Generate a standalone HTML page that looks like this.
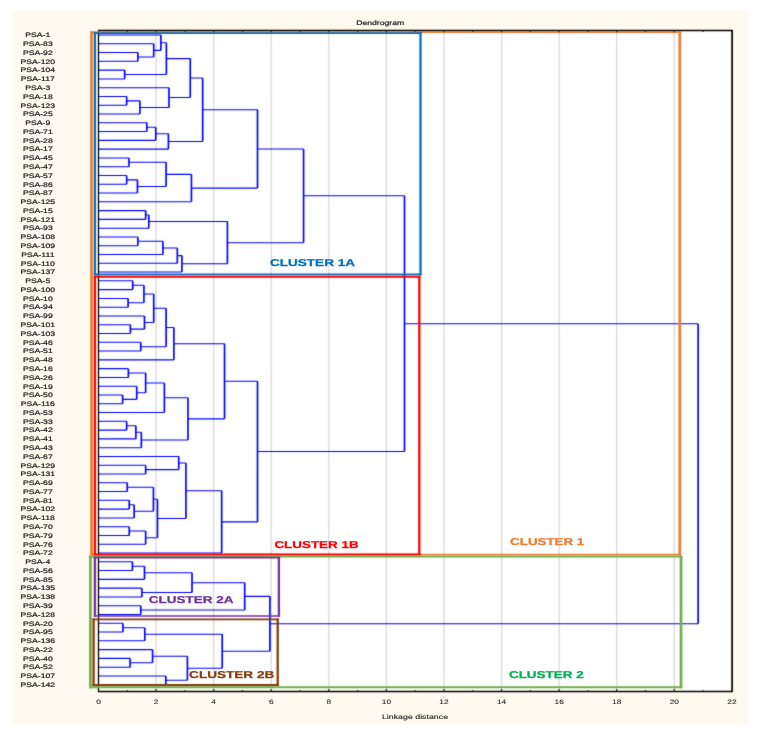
<!DOCTYPE html><html><head><meta charset="utf-8"><title>Dendrogram</title>
<style>html,body{margin:0;padding:0;background:#fff;width:759px;height:736px;overflow:hidden}svg{display:block}text{font-family:"Liberation Sans",sans-serif;text-rendering:geometricPrecision}.t{stroke:#222;stroke-width:0.22}</style></head><body>
<svg width="759" height="736" viewBox="0 0 759 736">
<defs><filter id="g" x="0" y="0" width="759" height="736" filterUnits="userSpaceOnUse"><feOffset dx="0" dy="0"/></filter></defs>
<defs><filter id="b" x="0" y="0" width="759" height="736" filterUnits="userSpaceOnUse" color-interpolation-filters="sRGB"><feConvolveMatrix order="3" kernelMatrix="0.0144 0.0912 0.0144 0.0912 0.5776 0.0912 0.0144 0.0912 0.0144" edgeMode="duplicate"/></filter></defs>
<rect width="759" height="736" fill="#fff"/>
<g filter="url(#b)">
<rect x="12.4" y="10.2" width="735.4" height="713.7" fill="#FFFAEF"/>
<rect x="98.50" y="30.50" width="633.50" height="661.00" fill="#fff"/>
<path d="M156.08 30.50V691.50M213.66 30.50V691.50M271.24 30.50V691.50M328.82 30.50V691.50M386.40 30.50V691.50M443.98 30.50V691.50M501.56 30.50V691.50M559.14 30.50V691.50M616.72 30.50V691.50M674.30 30.50V691.50" stroke="#D9D9D9" stroke-width="1.3" fill="none"/>
<path d="M98.15 52.56H137.88M98.15 61.34H137.88M98.15 43.78H153.71M137.88 56.95H153.71M98.15 35.00H160.91M153.71 50.37H160.91M98.15 70.12H124.64M98.15 78.90H124.64M160.91 42.68H166.38M124.64 74.51H166.38M98.15 96.46H126.65M98.15 105.24H126.65M126.65 100.85H139.90M98.15 114.02H139.90M98.15 87.68H168.97M139.90 107.44H168.97M166.38 58.60H190.28M168.97 97.56H190.28M98.15 122.80H146.81M98.15 131.58H146.81M146.81 127.19H155.73M98.15 140.36H155.73M155.73 133.77H168.40M98.15 149.14H168.40M190.28 78.08H202.66M168.40 141.46H202.66M98.15 157.92H128.96M98.15 166.70H128.96M98.15 175.48H126.65M98.15 184.26H126.65M126.65 179.87H137.45M98.15 193.04H137.45M128.96 162.31H166.09M137.45 186.45H166.09M166.09 174.38H191.43M98.15 201.82H191.43M202.66 109.77H257.50M191.43 188.10H257.50M98.15 210.60H145.65M98.15 219.38H145.65M145.65 214.99H148.82M98.15 228.16H148.82M98.15 236.94H137.88M98.15 245.72H137.88M137.88 241.33H162.93M98.15 254.50H162.93M162.93 247.91H177.32M98.15 263.28H177.32M177.32 255.60H181.93M98.15 272.06H181.93M148.82 221.57H227.42M181.93 263.83H227.42M257.50 148.93H303.57M227.42 242.70H303.57M98.15 280.84H132.70M98.15 289.62H132.70M98.15 298.40H128.09M98.15 307.18H128.09M132.70 285.23H143.93M128.09 302.79H143.93M98.15 324.74H130.39M98.15 333.52H130.39M98.15 315.96H144.50M130.39 329.13H144.50M143.93 294.01H153.71M144.50 322.54H153.71M98.15 342.30H140.76M98.15 351.08H140.76M153.71 308.28H166.09M140.76 346.69H166.09M166.09 327.48H173.87M98.15 359.86H173.87M98.15 368.64H128.38M98.15 377.42H128.38M98.15 394.98H122.62M98.15 403.76H122.62M98.15 386.20H136.73M122.62 399.37H136.73M128.38 373.03H145.65M136.73 392.78H145.65M145.65 382.91H164.37M98.15 412.54H164.37M98.15 421.32H126.65M98.15 430.10H126.65M126.65 425.71H135.86M98.15 438.88H135.86M135.86 432.29H141.34M98.15 447.66H141.34M164.37 397.72H187.97M141.34 439.98H187.97M173.87 343.67H224.54M187.97 418.85H224.54M98.15 465.22H145.65M98.15 474.00H145.65M98.15 456.44H178.76M145.65 469.61H178.76M98.15 482.78H127.23M98.15 491.56H127.23M98.15 500.34H129.24M98.15 509.12H129.24M129.24 504.73H134.14M98.15 517.90H134.14M127.23 487.17H153.43M134.14 511.31H153.43M98.15 526.68H129.24M98.15 535.46H129.24M129.24 531.07H145.65M98.15 544.24H145.65M153.43 499.24H157.46M145.65 537.65H157.46M178.76 463.02H185.96M157.46 518.45H185.96M185.96 490.74H221.66M98.15 553.02H221.66M224.54 381.26H257.50M221.66 521.88H257.50M303.57 195.82H404.48M257.50 451.57H404.48M98.15 561.80H132.41M98.15 570.58H132.41M132.41 566.19H144.50M98.15 579.36H144.50M98.15 588.14H141.91M98.15 596.92H141.91M144.50 572.77H192.01M141.91 592.53H192.01M98.15 605.70H140.76M98.15 614.48H140.76M192.01 582.65H244.69M140.76 610.09H244.69M98.15 623.26H122.91M98.15 632.04H122.91M122.91 627.65H144.79M98.15 640.82H144.79M98.15 658.38H130.11M98.15 667.16H130.11M98.15 649.60H152.56M130.11 662.77H152.56M98.15 675.94H165.81M98.15 684.72H165.81M152.56 656.18H187.40M165.81 680.33H187.40M144.79 634.23H222.23M187.40 668.26H222.23M244.69 596.37H269.88M222.23 651.25H269.88M404.48 323.69H698.13M269.88 623.81H698.13" stroke="#0000FF" stroke-width="1.05" fill="none"/>
<path d="M137.88 52.56V61.34M153.71 43.78V56.95M160.91 35.00V50.37M124.64 70.12V78.90M166.38 42.68V74.51M126.65 96.46V105.24M139.90 100.85V114.02M168.97 87.68V107.44M190.28 58.60V97.56M146.81 122.80V131.58M155.73 127.19V140.36M168.40 133.77V149.14M202.66 78.08V141.46M128.96 157.92V166.70M126.65 175.48V184.26M137.45 179.87V193.04M166.09 162.31V186.45M191.43 174.38V201.82M257.50 109.77V188.10M145.65 210.60V219.38M148.82 214.99V228.16M137.88 236.94V245.72M162.93 241.33V254.50M177.32 247.91V263.28M181.93 255.60V272.06M227.42 221.57V263.83M303.57 148.93V242.70M132.70 280.84V289.62M128.09 298.40V307.18M143.93 285.23V302.79M130.39 324.74V333.52M144.50 315.96V329.13M153.71 294.01V322.54M140.76 342.30V351.08M166.09 308.28V346.69M173.87 327.48V359.86M128.38 368.64V377.42M122.62 394.98V403.76M136.73 386.20V399.37M145.65 373.03V392.78M164.37 382.91V412.54M126.65 421.32V430.10M135.86 425.71V438.88M141.34 432.29V447.66M187.97 397.72V439.98M224.54 343.67V418.85M145.65 465.22V474.00M178.76 456.44V469.61M127.23 482.78V491.56M129.24 500.34V509.12M134.14 504.73V517.90M153.43 487.17V511.31M129.24 526.68V535.46M145.65 531.07V544.24M157.46 499.24V537.65M185.96 463.02V518.45M221.66 490.74V553.02M257.50 381.26V521.88M404.48 195.82V451.57M132.41 561.80V570.58M144.50 566.19V579.36M141.91 588.14V596.92M192.01 572.77V592.53M140.76 605.70V614.48M244.69 582.65V610.09M122.91 623.26V632.04M144.79 627.65V640.82M130.11 658.38V667.16M152.56 649.60V662.77M165.81 675.94V684.72M187.40 656.18V680.33M222.23 634.23V668.26M269.88 596.37V651.25M698.13 323.69V623.81" stroke="#0000FF" stroke-width="1.65" fill="none"/>
<path d="M98.50 30.50H732.00M98.50 30.50V691.50M98.50 691.50H732.00" fill="none" stroke="#000" stroke-width="1.3" stroke-linecap="square"/>
<path d="M732.10 29.90V692.10" fill="none" stroke="#000" stroke-width="1.7"/>
<path d="M90.15 32.10H681.15M90.15 554.60H681.15" fill="none" stroke="#ED7D31" stroke-width="1.90"/>
<path d="M91.50 31.15V555.55M679.80 31.15V555.55" fill="none" stroke="#ED7D31" stroke-width="2.70"/>
<path d="M89.05 556.60H682.35M89.05 687.20H682.35" fill="none" stroke="#70AD47" stroke-width="1.90"/>
<path d="M90.40 555.65V688.15M681.00 555.65V688.15" fill="none" stroke="#70AD47" stroke-width="2.70"/>
<path d="M93.75 33.10H421.65M93.75 274.40H421.65" fill="none" stroke="#0070C0" stroke-width="1.90"/>
<path d="M94.90 32.15V275.35M420.50 32.15V275.35" fill="none" stroke="#0070C0" stroke-width="2.30"/>
<path d="M93.75 276.80H420.45M93.75 554.40H420.45" fill="none" stroke="#FF0000" stroke-width="1.90"/>
<path d="M94.90 275.85V555.35M419.30 275.85V555.35" fill="none" stroke="#FF0000" stroke-width="2.30"/>
<path d="M93.75 557.60H280.05M93.75 616.00H280.05" fill="none" stroke="#7030A0" stroke-width="1.70"/>
<path d="M94.90 556.75V616.85M278.90 556.75V616.85" fill="none" stroke="#7030A0" stroke-width="2.30"/>
<path d="M92.45 619.40H278.85M92.45 685.00H278.85" fill="none" stroke="#843C0C" stroke-width="1.90"/>
<path d="M93.60 618.45V685.95M277.70 618.45V685.95" fill="none" stroke="#843C0C" stroke-width="2.30"/>
<path d="M127.29 30.50V31.90M127.29 691.50V689.90M156.08 30.50V32.30M156.08 691.50V688.90M184.87 30.50V31.90M184.87 691.50V689.90M213.66 30.50V32.30M213.66 691.50V688.90M242.45 30.50V31.90M242.45 691.50V689.90M271.24 30.50V32.30M271.24 691.50V688.90M300.03 30.50V31.90M300.03 691.50V689.90M328.82 30.50V32.30M328.82 691.50V688.90M357.61 30.50V31.90M357.61 691.50V689.90M386.40 30.50V32.30M386.40 691.50V688.90M415.19 30.50V31.90M415.19 691.50V689.90M443.98 30.50V32.30M443.98 691.50V688.90M472.77 30.50V31.90M472.77 691.50V689.90M501.56 30.50V32.30M501.56 691.50V688.90M530.35 30.50V31.90M530.35 691.50V689.90M559.14 30.50V32.30M559.14 691.50V688.90M587.93 30.50V31.90M587.93 691.50V689.90M616.72 30.50V32.30M616.72 691.50V688.90M645.51 30.50V31.90M645.51 691.50V689.90M674.30 30.50V32.30M674.30 691.50V688.90M703.09 30.50V31.90M703.09 691.50V689.90" stroke="#222" stroke-width="1.2" fill="none"/>
</g>
<g filter="url(#g)">
<text x="269.90" y="266.08" font-size="10.00" fill="#0070C0" stroke="#0070C0" stroke-width="0.25" font-weight="bold" textLength="85.20" lengthAdjust="spacingAndGlyphs">CLUSTER 1A</text>
<text x="274.40" y="548.08" font-size="10.00" fill="#FF0000" stroke="#FF0000" stroke-width="0.25" font-weight="bold" textLength="84.20" lengthAdjust="spacingAndGlyphs">CLUSTER 1B</text>
<text x="510.10" y="545.28" font-size="10.00" fill="#ED7D31" stroke="#ED7D31" stroke-width="0.25" font-weight="bold" textLength="74.20" lengthAdjust="spacingAndGlyphs">CLUSTER 1</text>
<text x="508.95" y="678.08" font-size="10.00" fill="#00B050" stroke="#00B050" stroke-width="0.25" font-weight="bold" textLength="74.70" lengthAdjust="spacingAndGlyphs">CLUSTER 2</text>
<text x="148.85" y="603.28" font-size="10.00" fill="#7030A0" stroke="#7030A0" stroke-width="0.25" font-weight="bold" textLength="84.70" lengthAdjust="spacingAndGlyphs">CLUSTER 2A</text>
<text x="189.10" y="678.08" font-size="10.00" fill="#843C0C" stroke="#843C0C" stroke-width="0.25" font-weight="bold" textLength="85.20" lengthAdjust="spacingAndGlyphs">CLUSTER 2B</text>
<text class="t" transform="translate(37.80 37.30) scale(1.330 1)" font-size="6.50" fill="#222" font-weight="normal" text-anchor="middle">PSA-1</text>
<text class="t" transform="translate(37.80 46.08) scale(1.330 1)" font-size="6.50" fill="#222" font-weight="normal" text-anchor="middle">PSA-83</text>
<text class="t" transform="translate(37.80 54.86) scale(1.330 1)" font-size="6.50" fill="#222" font-weight="normal" text-anchor="middle">PSA-92</text>
<text class="t" transform="translate(37.80 63.64) scale(1.330 1)" font-size="6.50" fill="#222" font-weight="normal" text-anchor="middle">PSA-120</text>
<text class="t" transform="translate(37.80 72.42) scale(1.330 1)" font-size="6.50" fill="#222" font-weight="normal" text-anchor="middle">PSA-104</text>
<text class="t" transform="translate(37.80 81.20) scale(1.330 1)" font-size="6.50" fill="#222" font-weight="normal" text-anchor="middle">PSA-117</text>
<text class="t" transform="translate(37.80 89.98) scale(1.330 1)" font-size="6.50" fill="#222" font-weight="normal" text-anchor="middle">PSA-3</text>
<text class="t" transform="translate(37.80 98.76) scale(1.330 1)" font-size="6.50" fill="#222" font-weight="normal" text-anchor="middle">PSA-18</text>
<text class="t" transform="translate(37.80 107.54) scale(1.330 1)" font-size="6.50" fill="#222" font-weight="normal" text-anchor="middle">PSA-123</text>
<text class="t" transform="translate(37.80 116.32) scale(1.330 1)" font-size="6.50" fill="#222" font-weight="normal" text-anchor="middle">PSA-25</text>
<text class="t" transform="translate(37.80 125.10) scale(1.330 1)" font-size="6.50" fill="#222" font-weight="normal" text-anchor="middle">PSA-9</text>
<text class="t" transform="translate(37.80 133.88) scale(1.330 1)" font-size="6.50" fill="#222" font-weight="normal" text-anchor="middle">PSA-71</text>
<text class="t" transform="translate(37.80 142.66) scale(1.330 1)" font-size="6.50" fill="#222" font-weight="normal" text-anchor="middle">PSA-28</text>
<text class="t" transform="translate(37.80 151.44) scale(1.330 1)" font-size="6.50" fill="#222" font-weight="normal" text-anchor="middle">PSA-17</text>
<text class="t" transform="translate(37.80 160.22) scale(1.330 1)" font-size="6.50" fill="#222" font-weight="normal" text-anchor="middle">PSA-45</text>
<text class="t" transform="translate(37.80 169.00) scale(1.330 1)" font-size="6.50" fill="#222" font-weight="normal" text-anchor="middle">PSA-47</text>
<text class="t" transform="translate(37.80 177.78) scale(1.330 1)" font-size="6.50" fill="#222" font-weight="normal" text-anchor="middle">PSA-57</text>
<text class="t" transform="translate(37.80 186.56) scale(1.330 1)" font-size="6.50" fill="#222" font-weight="normal" text-anchor="middle">PSA-86</text>
<text class="t" transform="translate(37.80 195.34) scale(1.330 1)" font-size="6.50" fill="#222" font-weight="normal" text-anchor="middle">PSA-87</text>
<text class="t" transform="translate(37.80 204.12) scale(1.330 1)" font-size="6.50" fill="#222" font-weight="normal" text-anchor="middle">PSA-125</text>
<text class="t" transform="translate(37.80 212.90) scale(1.330 1)" font-size="6.50" fill="#222" font-weight="normal" text-anchor="middle">PSA-15</text>
<text class="t" transform="translate(37.80 221.68) scale(1.330 1)" font-size="6.50" fill="#222" font-weight="normal" text-anchor="middle">PSA-121</text>
<text class="t" transform="translate(37.80 230.46) scale(1.330 1)" font-size="6.50" fill="#222" font-weight="normal" text-anchor="middle">PSA-93</text>
<text class="t" transform="translate(37.80 239.24) scale(1.330 1)" font-size="6.50" fill="#222" font-weight="normal" text-anchor="middle">PSA-108</text>
<text class="t" transform="translate(37.80 248.02) scale(1.330 1)" font-size="6.50" fill="#222" font-weight="normal" text-anchor="middle">PSA-109</text>
<text class="t" transform="translate(37.80 256.80) scale(1.330 1)" font-size="6.50" fill="#222" font-weight="normal" text-anchor="middle">PSA-111</text>
<text class="t" transform="translate(37.80 265.58) scale(1.330 1)" font-size="6.50" fill="#222" font-weight="normal" text-anchor="middle">PSA-110</text>
<text class="t" transform="translate(37.80 274.36) scale(1.330 1)" font-size="6.50" fill="#222" font-weight="normal" text-anchor="middle">PSA-137</text>
<text class="t" transform="translate(37.80 283.14) scale(1.330 1)" font-size="6.50" fill="#222" font-weight="normal" text-anchor="middle">PSA-5</text>
<text class="t" transform="translate(37.80 291.92) scale(1.330 1)" font-size="6.50" fill="#222" font-weight="normal" text-anchor="middle">PSA-100</text>
<text class="t" transform="translate(37.80 300.70) scale(1.330 1)" font-size="6.50" fill="#222" font-weight="normal" text-anchor="middle">PSA-10</text>
<text class="t" transform="translate(37.80 309.48) scale(1.330 1)" font-size="6.50" fill="#222" font-weight="normal" text-anchor="middle">PSA-94</text>
<text class="t" transform="translate(37.80 318.26) scale(1.330 1)" font-size="6.50" fill="#222" font-weight="normal" text-anchor="middle">PSA-99</text>
<text class="t" transform="translate(37.80 327.04) scale(1.330 1)" font-size="6.50" fill="#222" font-weight="normal" text-anchor="middle">PSA-101</text>
<text class="t" transform="translate(37.80 335.82) scale(1.330 1)" font-size="6.50" fill="#222" font-weight="normal" text-anchor="middle">PSA-103</text>
<text class="t" transform="translate(37.80 344.60) scale(1.330 1)" font-size="6.50" fill="#222" font-weight="normal" text-anchor="middle">PSA-46</text>
<text class="t" transform="translate(37.80 353.38) scale(1.330 1)" font-size="6.50" fill="#222" font-weight="normal" text-anchor="middle">PSA-51</text>
<text class="t" transform="translate(37.80 362.16) scale(1.330 1)" font-size="6.50" fill="#222" font-weight="normal" text-anchor="middle">PSA-48</text>
<text class="t" transform="translate(37.80 370.94) scale(1.330 1)" font-size="6.50" fill="#222" font-weight="normal" text-anchor="middle">PSA-16</text>
<text class="t" transform="translate(37.80 379.72) scale(1.330 1)" font-size="6.50" fill="#222" font-weight="normal" text-anchor="middle">PSA-26</text>
<text class="t" transform="translate(37.80 388.50) scale(1.330 1)" font-size="6.50" fill="#222" font-weight="normal" text-anchor="middle">PSA-19</text>
<text class="t" transform="translate(37.80 397.28) scale(1.330 1)" font-size="6.50" fill="#222" font-weight="normal" text-anchor="middle">PSA-50</text>
<text class="t" transform="translate(37.80 406.06) scale(1.330 1)" font-size="6.50" fill="#222" font-weight="normal" text-anchor="middle">PSA-116</text>
<text class="t" transform="translate(37.80 414.84) scale(1.330 1)" font-size="6.50" fill="#222" font-weight="normal" text-anchor="middle">PSA-53</text>
<text class="t" transform="translate(37.80 423.62) scale(1.330 1)" font-size="6.50" fill="#222" font-weight="normal" text-anchor="middle">PSA-33</text>
<text class="t" transform="translate(37.80 432.40) scale(1.330 1)" font-size="6.50" fill="#222" font-weight="normal" text-anchor="middle">PSA-42</text>
<text class="t" transform="translate(37.80 441.18) scale(1.330 1)" font-size="6.50" fill="#222" font-weight="normal" text-anchor="middle">PSA-41</text>
<text class="t" transform="translate(37.80 449.96) scale(1.330 1)" font-size="6.50" fill="#222" font-weight="normal" text-anchor="middle">PSA-43</text>
<text class="t" transform="translate(37.80 458.74) scale(1.330 1)" font-size="6.50" fill="#222" font-weight="normal" text-anchor="middle">PSA-67</text>
<text class="t" transform="translate(37.80 467.52) scale(1.330 1)" font-size="6.50" fill="#222" font-weight="normal" text-anchor="middle">PSA-129</text>
<text class="t" transform="translate(37.80 476.30) scale(1.330 1)" font-size="6.50" fill="#222" font-weight="normal" text-anchor="middle">PSA-131</text>
<text class="t" transform="translate(37.80 485.08) scale(1.330 1)" font-size="6.50" fill="#222" font-weight="normal" text-anchor="middle">PSA-69</text>
<text class="t" transform="translate(37.80 493.86) scale(1.330 1)" font-size="6.50" fill="#222" font-weight="normal" text-anchor="middle">PSA-77</text>
<text class="t" transform="translate(37.80 502.64) scale(1.330 1)" font-size="6.50" fill="#222" font-weight="normal" text-anchor="middle">PSA-81</text>
<text class="t" transform="translate(37.80 511.42) scale(1.330 1)" font-size="6.50" fill="#222" font-weight="normal" text-anchor="middle">PSA-102</text>
<text class="t" transform="translate(37.80 520.20) scale(1.330 1)" font-size="6.50" fill="#222" font-weight="normal" text-anchor="middle">PSA-118</text>
<text class="t" transform="translate(37.80 528.98) scale(1.330 1)" font-size="6.50" fill="#222" font-weight="normal" text-anchor="middle">PSA-70</text>
<text class="t" transform="translate(37.80 537.76) scale(1.330 1)" font-size="6.50" fill="#222" font-weight="normal" text-anchor="middle">PSA-79</text>
<text class="t" transform="translate(37.80 546.54) scale(1.330 1)" font-size="6.50" fill="#222" font-weight="normal" text-anchor="middle">PSA-76</text>
<text class="t" transform="translate(37.80 555.32) scale(1.330 1)" font-size="6.50" fill="#222" font-weight="normal" text-anchor="middle">PSA-72</text>
<text class="t" transform="translate(37.80 564.10) scale(1.330 1)" font-size="6.50" fill="#222" font-weight="normal" text-anchor="middle">PSA-4</text>
<text class="t" transform="translate(37.80 572.88) scale(1.330 1)" font-size="6.50" fill="#222" font-weight="normal" text-anchor="middle">PSA-56</text>
<text class="t" transform="translate(37.80 581.66) scale(1.330 1)" font-size="6.50" fill="#222" font-weight="normal" text-anchor="middle">PSA-85</text>
<text class="t" transform="translate(37.80 590.44) scale(1.330 1)" font-size="6.50" fill="#222" font-weight="normal" text-anchor="middle">PSA-135</text>
<text class="t" transform="translate(37.80 599.22) scale(1.330 1)" font-size="6.50" fill="#222" font-weight="normal" text-anchor="middle">PSA-138</text>
<text class="t" transform="translate(37.80 608.00) scale(1.330 1)" font-size="6.50" fill="#222" font-weight="normal" text-anchor="middle">PSA-39</text>
<text class="t" transform="translate(37.80 616.78) scale(1.330 1)" font-size="6.50" fill="#222" font-weight="normal" text-anchor="middle">PSA-128</text>
<text class="t" transform="translate(37.80 625.56) scale(1.330 1)" font-size="6.50" fill="#222" font-weight="normal" text-anchor="middle">PSA-20</text>
<text class="t" transform="translate(37.80 634.34) scale(1.330 1)" font-size="6.50" fill="#222" font-weight="normal" text-anchor="middle">PSA-95</text>
<text class="t" transform="translate(37.80 643.12) scale(1.330 1)" font-size="6.50" fill="#222" font-weight="normal" text-anchor="middle">PSA-136</text>
<text class="t" transform="translate(37.80 651.90) scale(1.330 1)" font-size="6.50" fill="#222" font-weight="normal" text-anchor="middle">PSA-22</text>
<text class="t" transform="translate(37.80 660.68) scale(1.330 1)" font-size="6.50" fill="#222" font-weight="normal" text-anchor="middle">PSA-40</text>
<text class="t" transform="translate(37.80 669.46) scale(1.330 1)" font-size="6.50" fill="#222" font-weight="normal" text-anchor="middle">PSA-52</text>
<text class="t" transform="translate(37.80 678.24) scale(1.330 1)" font-size="6.50" fill="#222" font-weight="normal" text-anchor="middle">PSA-107</text>
<text class="t" transform="translate(37.80 687.02) scale(1.330 1)" font-size="6.50" fill="#222" font-weight="normal" text-anchor="middle">PSA-142</text>
<text class="t" transform="translate(98.50 704.00) scale(1.280 1)" font-size="6.50" fill="#222" font-weight="normal" text-anchor="middle" style="stroke-width:0.08">0</text>
<text class="t" transform="translate(156.08 704.00) scale(1.280 1)" font-size="6.50" fill="#222" font-weight="normal" text-anchor="middle" style="stroke-width:0.08">2</text>
<text class="t" transform="translate(213.66 704.00) scale(1.280 1)" font-size="6.50" fill="#222" font-weight="normal" text-anchor="middle" style="stroke-width:0.08">4</text>
<text class="t" transform="translate(271.24 704.00) scale(1.280 1)" font-size="6.50" fill="#222" font-weight="normal" text-anchor="middle" style="stroke-width:0.08">6</text>
<text class="t" transform="translate(328.82 704.00) scale(1.280 1)" font-size="6.50" fill="#222" font-weight="normal" text-anchor="middle" style="stroke-width:0.08">8</text>
<text class="t" transform="translate(386.40 704.00) scale(1.280 1)" font-size="6.50" fill="#222" font-weight="normal" text-anchor="middle" style="stroke-width:0.08">10</text>
<text class="t" transform="translate(443.98 704.00) scale(1.280 1)" font-size="6.50" fill="#222" font-weight="normal" text-anchor="middle" style="stroke-width:0.08">12</text>
<text class="t" transform="translate(501.56 704.00) scale(1.280 1)" font-size="6.50" fill="#222" font-weight="normal" text-anchor="middle" style="stroke-width:0.08">14</text>
<text class="t" transform="translate(559.14 704.00) scale(1.280 1)" font-size="6.50" fill="#222" font-weight="normal" text-anchor="middle" style="stroke-width:0.08">16</text>
<text class="t" transform="translate(616.72 704.00) scale(1.280 1)" font-size="6.50" fill="#222" font-weight="normal" text-anchor="middle" style="stroke-width:0.08">18</text>
<text class="t" transform="translate(674.30 704.00) scale(1.280 1)" font-size="6.50" fill="#222" font-weight="normal" text-anchor="middle" style="stroke-width:0.08">20</text>
<text class="t" transform="translate(731.88 704.00) scale(1.280 1)" font-size="6.50" fill="#222" font-weight="normal" text-anchor="middle" style="stroke-width:0.08">22</text>
<text class="t" transform="translate(415.00 719.00) scale(1.355 1)" font-size="6.50" fill="#222" font-weight="normal" text-anchor="middle" style="stroke-width:0.12">Linkage distance</text>
<text class="t" transform="translate(380.20 24.80) scale(1.330 1)" font-size="6.50" fill="#222" font-weight="normal" text-anchor="middle">Dendrogram</text>
</g></svg></body></html>
